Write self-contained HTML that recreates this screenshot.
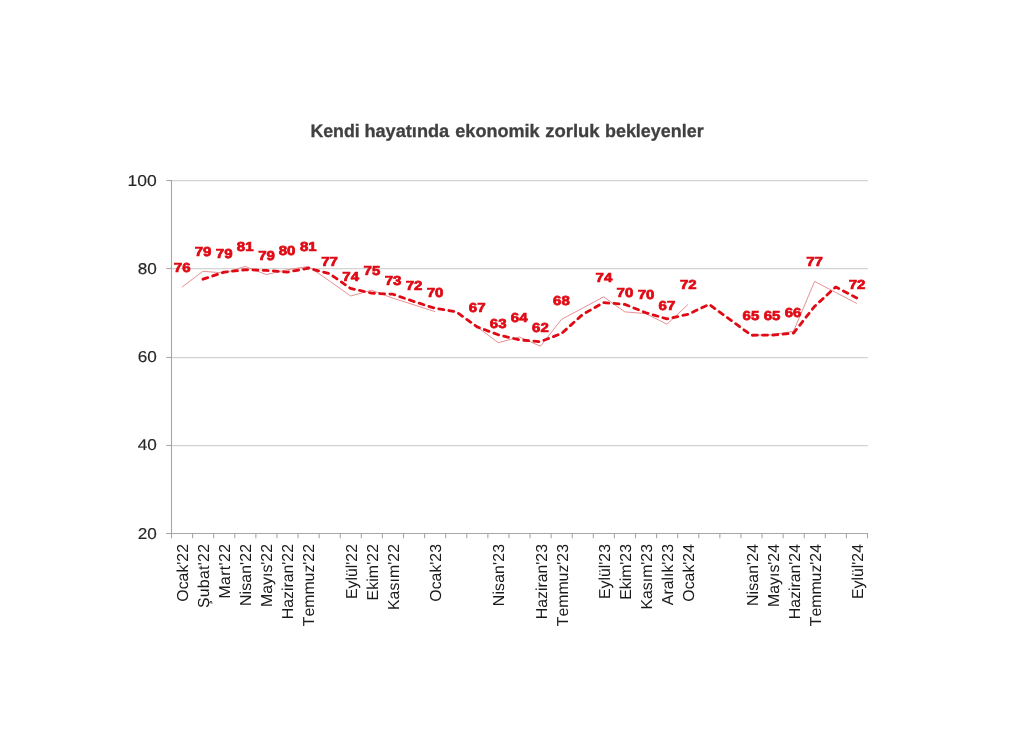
<!DOCTYPE html>
<html lang="tr"><head><meta charset="utf-8"><title>Kendi hayatında ekonomik zorluk bekleyenler</title>
<style>html,body{margin:0;padding:0;background:#fff;}body{width:1024px;height:743px;overflow:hidden;}svg{display:block;}.t{font-family:"Liberation Sans",sans-serif;text-rendering:geometricPrecision;font-kerning:none;}</style></head><body>
<svg width="1024" height="743" viewBox="0 0 1024 743">
<rect width="1024" height="743" fill="#fff"/>
<line x1="171.35" y1="180.50" x2="867.85" y2="180.50" stroke="#d3d3d3" stroke-width="1.25"/>
<line x1="171.35" y1="268.50" x2="867.85" y2="268.50" stroke="#d3d3d3" stroke-width="1.25"/>
<line x1="171.35" y1="357.50" x2="867.85" y2="357.50" stroke="#d3d3d3" stroke-width="1.25"/>
<line x1="171.35" y1="445.50" x2="867.85" y2="445.50" stroke="#d3d3d3" stroke-width="1.25"/>
<line x1="166.35" y1="180.50" x2="171.35" y2="180.50" stroke="#a7a7a7" stroke-width="1.1"/>
<line x1="166.35" y1="268.50" x2="171.35" y2="268.50" stroke="#a7a7a7" stroke-width="1.1"/>
<line x1="166.35" y1="357.50" x2="171.35" y2="357.50" stroke="#a7a7a7" stroke-width="1.1"/>
<line x1="166.35" y1="445.50" x2="171.35" y2="445.50" stroke="#a7a7a7" stroke-width="1.1"/>
<line x1="166.35" y1="533.50" x2="171.35" y2="533.50" stroke="#a7a7a7" stroke-width="1.1"/>
<line x1="171.5" y1="180" x2="171.5" y2="534" stroke="#a7a7a7" stroke-width="1.1"/>
<line x1="166.35" y1="533.5" x2="868" y2="533.5" stroke="#a7a7a7" stroke-width="1.1"/>
<line x1="171.50" y1="533.5" x2="171.50" y2="538.3" stroke="#a7a7a7" stroke-width="1.1"/>
<line x1="192.59" y1="533.5" x2="192.59" y2="538.3" stroke="#a7a7a7" stroke-width="1.1"/>
<line x1="213.68" y1="533.5" x2="213.68" y2="538.3" stroke="#a7a7a7" stroke-width="1.1"/>
<line x1="234.77" y1="533.5" x2="234.77" y2="538.3" stroke="#a7a7a7" stroke-width="1.1"/>
<line x1="255.86" y1="533.5" x2="255.86" y2="538.3" stroke="#a7a7a7" stroke-width="1.1"/>
<line x1="276.95" y1="533.5" x2="276.95" y2="538.3" stroke="#a7a7a7" stroke-width="1.1"/>
<line x1="298.05" y1="533.5" x2="298.05" y2="538.3" stroke="#a7a7a7" stroke-width="1.1"/>
<line x1="319.14" y1="533.5" x2="319.14" y2="538.3" stroke="#a7a7a7" stroke-width="1.1"/>
<line x1="340.23" y1="533.5" x2="340.23" y2="538.3" stroke="#a7a7a7" stroke-width="1.1"/>
<line x1="361.32" y1="533.5" x2="361.32" y2="538.3" stroke="#a7a7a7" stroke-width="1.1"/>
<line x1="382.41" y1="533.5" x2="382.41" y2="538.3" stroke="#a7a7a7" stroke-width="1.1"/>
<line x1="403.50" y1="533.5" x2="403.50" y2="538.3" stroke="#a7a7a7" stroke-width="1.1"/>
<line x1="424.59" y1="533.5" x2="424.59" y2="538.3" stroke="#a7a7a7" stroke-width="1.1"/>
<line x1="445.68" y1="533.5" x2="445.68" y2="538.3" stroke="#a7a7a7" stroke-width="1.1"/>
<line x1="466.77" y1="533.5" x2="466.77" y2="538.3" stroke="#a7a7a7" stroke-width="1.1"/>
<line x1="487.86" y1="533.5" x2="487.86" y2="538.3" stroke="#a7a7a7" stroke-width="1.1"/>
<line x1="508.95" y1="533.5" x2="508.95" y2="538.3" stroke="#a7a7a7" stroke-width="1.1"/>
<line x1="530.05" y1="533.5" x2="530.05" y2="538.3" stroke="#a7a7a7" stroke-width="1.1"/>
<line x1="551.14" y1="533.5" x2="551.14" y2="538.3" stroke="#a7a7a7" stroke-width="1.1"/>
<line x1="572.23" y1="533.5" x2="572.23" y2="538.3" stroke="#a7a7a7" stroke-width="1.1"/>
<line x1="593.32" y1="533.5" x2="593.32" y2="538.3" stroke="#a7a7a7" stroke-width="1.1"/>
<line x1="614.41" y1="533.5" x2="614.41" y2="538.3" stroke="#a7a7a7" stroke-width="1.1"/>
<line x1="635.50" y1="533.5" x2="635.50" y2="538.3" stroke="#a7a7a7" stroke-width="1.1"/>
<line x1="656.59" y1="533.5" x2="656.59" y2="538.3" stroke="#a7a7a7" stroke-width="1.1"/>
<line x1="677.68" y1="533.5" x2="677.68" y2="538.3" stroke="#a7a7a7" stroke-width="1.1"/>
<line x1="698.77" y1="533.5" x2="698.77" y2="538.3" stroke="#a7a7a7" stroke-width="1.1"/>
<line x1="719.86" y1="533.5" x2="719.86" y2="538.3" stroke="#a7a7a7" stroke-width="1.1"/>
<line x1="740.95" y1="533.5" x2="740.95" y2="538.3" stroke="#a7a7a7" stroke-width="1.1"/>
<line x1="762.05" y1="533.5" x2="762.05" y2="538.3" stroke="#a7a7a7" stroke-width="1.1"/>
<line x1="783.14" y1="533.5" x2="783.14" y2="538.3" stroke="#a7a7a7" stroke-width="1.1"/>
<line x1="804.23" y1="533.5" x2="804.23" y2="538.3" stroke="#a7a7a7" stroke-width="1.1"/>
<line x1="825.32" y1="533.5" x2="825.32" y2="538.3" stroke="#a7a7a7" stroke-width="1.1"/>
<line x1="846.41" y1="533.5" x2="846.41" y2="538.3" stroke="#a7a7a7" stroke-width="1.1"/>
<line x1="867.50" y1="533.5" x2="867.50" y2="538.3" stroke="#a7a7a7" stroke-width="1.1"/>
<text class="t" x="156.8" y="185.70" font-size="15.6" text-anchor="end" fill="#262626" stroke="#262626" stroke-width="0.15" textLength="29.2" lengthAdjust="spacingAndGlyphs">100</text>
<text class="t" x="156.8" y="273.96" font-size="15.6" text-anchor="end" fill="#262626" stroke="#262626" stroke-width="0.15" textLength="19.1" lengthAdjust="spacingAndGlyphs">80</text>
<text class="t" x="156.8" y="362.23" font-size="15.6" text-anchor="end" fill="#262626" stroke="#262626" stroke-width="0.15" textLength="19.1" lengthAdjust="spacingAndGlyphs">60</text>
<text class="t" x="156.8" y="450.49" font-size="15.6" text-anchor="end" fill="#262626" stroke="#262626" stroke-width="0.15" textLength="19.1" lengthAdjust="spacingAndGlyphs">40</text>
<text class="t" x="156.8" y="538.75" font-size="15.6" text-anchor="end" fill="#262626" stroke="#262626" stroke-width="0.15" textLength="19.1" lengthAdjust="spacingAndGlyphs">20</text>
<text class="t" x="310.40" y="136.7" font-size="18" font-weight="bold" fill="#404040" stroke="#404040" stroke-width="0.3" textLength="49.40" lengthAdjust="spacingAndGlyphs">Kendi</text>
<text class="t" x="364.40" y="136.7" font-size="18" font-weight="bold" fill="#404040" stroke="#404040" stroke-width="0.3" textLength="84.80" lengthAdjust="spacingAndGlyphs">hayatında</text>
<text class="t" x="455.30" y="136.7" font-size="18" font-weight="bold" fill="#404040" stroke="#404040" stroke-width="0.3" textLength="84.30" lengthAdjust="spacingAndGlyphs">ekonomik</text>
<text class="t" x="545.20" y="136.7" font-size="18" font-weight="bold" fill="#404040" stroke="#404040" stroke-width="0.3" textLength="54.40" lengthAdjust="spacingAndGlyphs">zorluk</text>
<text class="t" x="605.00" y="136.7" font-size="18" font-weight="bold" fill="#404040" stroke="#404040" stroke-width="0.3" textLength="98.60" lengthAdjust="spacingAndGlyphs">bekleyenler</text>
<text class="t" transform="translate(187.60,544.0) rotate(-90)" font-size="15.85" text-anchor="end" fill="#1a1a1a">Ocak'22</text>
<text class="t" transform="translate(208.72,544.0) rotate(-90)" font-size="15.85" text-anchor="end" fill="#1a1a1a" textLength="64.1">Şubat'22</text>
<text class="t" transform="translate(229.84,544.0) rotate(-90)" font-size="15.85" text-anchor="end" fill="#1a1a1a" textLength="54.6">Mart'22</text>
<text class="t" transform="translate(250.96,544.0) rotate(-90)" font-size="15.85" text-anchor="end" fill="#1a1a1a" textLength="62.1">Nisan'22</text>
<text class="t" transform="translate(272.08,544.0) rotate(-90)" font-size="15.85" text-anchor="end" fill="#1a1a1a">Mayıs'22</text>
<text class="t" transform="translate(293.20,544.0) rotate(-90)" font-size="15.85" text-anchor="end" fill="#1a1a1a">Haziran'22</text>
<text class="t" transform="translate(314.32,544.0) rotate(-90)" font-size="15.85" text-anchor="end" fill="#1a1a1a">Temmuz'22</text>
<text class="t" transform="translate(356.56,544.0) rotate(-90)" font-size="15.85" text-anchor="end" fill="#1a1a1a">Eylül'22</text>
<text class="t" transform="translate(377.68,544.0) rotate(-90)" font-size="15.85" text-anchor="end" fill="#1a1a1a" textLength="56.5">Ekim'22</text>
<text class="t" transform="translate(398.80,544.0) rotate(-90)" font-size="15.85" text-anchor="end" fill="#1a1a1a" textLength="66.1">Kasım'22</text>
<text class="t" transform="translate(441.04,544.0) rotate(-90)" font-size="15.85" text-anchor="end" fill="#1a1a1a">Ocak'23</text>
<text class="t" transform="translate(504.40,544.0) rotate(-90)" font-size="15.85" text-anchor="end" fill="#1a1a1a" textLength="62.2">Nisan'23</text>
<text class="t" transform="translate(546.64,544.0) rotate(-90)" font-size="15.85" text-anchor="end" fill="#1a1a1a">Haziran'23</text>
<text class="t" transform="translate(567.76,544.0) rotate(-90)" font-size="15.85" text-anchor="end" fill="#1a1a1a">Temmuz'23</text>
<text class="t" transform="translate(610.00,544.0) rotate(-90)" font-size="15.85" text-anchor="end" fill="#1a1a1a">Eylül'23</text>
<text class="t" transform="translate(631.12,544.0) rotate(-90)" font-size="15.85" text-anchor="end" fill="#1a1a1a">Ekim'23</text>
<text class="t" transform="translate(652.24,544.0) rotate(-90)" font-size="15.85" text-anchor="end" fill="#1a1a1a">Kasım'23</text>
<text class="t" transform="translate(673.36,544.0) rotate(-90)" font-size="15.85" text-anchor="end" fill="#1a1a1a">Aralık'23</text>
<text class="t" transform="translate(694.48,544.0) rotate(-90)" font-size="15.85" text-anchor="end" fill="#1a1a1a">Ocak'24</text>
<text class="t" transform="translate(757.84,544.0) rotate(-90)" font-size="15.85" text-anchor="end" fill="#1a1a1a" textLength="62.1">Nisan'24</text>
<text class="t" transform="translate(778.96,544.0) rotate(-90)" font-size="15.85" text-anchor="end" fill="#1a1a1a">Mayıs'24</text>
<text class="t" transform="translate(800.08,544.0) rotate(-90)" font-size="15.85" text-anchor="end" fill="#1a1a1a">Haziran'24</text>
<text class="t" transform="translate(821.20,544.0) rotate(-90)" font-size="15.85" text-anchor="end" fill="#1a1a1a">Temmuz'24</text>
<text class="t" transform="translate(863.44,544.0) rotate(-90)" font-size="15.85" text-anchor="end" fill="#1a1a1a">Eylül'24</text>
<polyline points="181.90,287.15 202.99,271.26 224.08,273.03 245.17,266.41 266.26,274.57 287.35,269.72 308.44,266.41 329.53,280.97 350.62,295.97 371.71,290.24 392.80,298.18 413.90,304.80 434.99,311.64" fill="none" stroke="#e0747a" stroke-width="0.8" stroke-linejoin="round"/>
<polyline points="477.17,326.87 498.26,342.75 519.35,337.02 540.44,346.28 561.53,319.36 582.62,308.11 603.71,296.86 624.80,311.86 645.90,313.63 666.99,324.22 688.08,304.36" fill="none" stroke="#e0747a" stroke-width="0.8" stroke-linejoin="round"/>
<polyline points="751.35,335.25 772.44,334.81 793.53,331.28 814.62,281.41 835.71,292.44 856.80,303.48" fill="none" stroke="#e0747a" stroke-width="0.8" stroke-linejoin="round"/>
<polyline points="202.99,279.20 224.08,272.14 245.17,269.72 266.26,270.38 287.35,272.14 308.44,268.17 329.53,273.69 350.62,288.47 371.71,293.11 392.80,294.21 413.90,301.49 434.99,308.33 456.08,311.64 477.17,326.87 498.26,334.81 519.35,339.88 540.44,341.65 561.53,333.49 582.62,314.51 603.71,302.59 624.80,304.36 645.90,312.74 666.99,318.92 688.08,314.29 709.17,304.36 751.35,335.25 772.44,335.03 793.53,333.04 814.62,306.34 835.71,286.93 856.80,297.96" fill="none" stroke="#e00a14" stroke-width="2.8" stroke-dasharray="5 5.24" stroke-linejoin="round" stroke-linecap="round"/>
<text class="t" x="182.2" y="272.4" font-size="13" font-weight="bold" text-anchor="middle" fill="#e00a14" stroke="#e00a14" stroke-width="0.7" textLength="16.7" lengthAdjust="spacingAndGlyphs">76</text>
<text class="t" x="203.0" y="256.1" font-size="13" font-weight="bold" text-anchor="middle" fill="#e00a14" stroke="#e00a14" stroke-width="0.7" textLength="16.7" lengthAdjust="spacingAndGlyphs">79</text>
<text class="t" x="224.2" y="258.4" font-size="13" font-weight="bold" text-anchor="middle" fill="#e00a14" stroke="#e00a14" stroke-width="0.7" textLength="16.7" lengthAdjust="spacingAndGlyphs">79</text>
<text class="t" x="245.2" y="251.0" font-size="13" font-weight="bold" text-anchor="middle" fill="#e00a14" stroke="#e00a14" stroke-width="0.7" textLength="16.7" lengthAdjust="spacingAndGlyphs">81</text>
<text class="t" x="266.6" y="259.7" font-size="13" font-weight="bold" text-anchor="middle" fill="#e00a14" stroke="#e00a14" stroke-width="0.7" textLength="16.7" lengthAdjust="spacingAndGlyphs">79</text>
<text class="t" x="287.1" y="254.8" font-size="13" font-weight="bold" text-anchor="middle" fill="#e00a14" stroke="#e00a14" stroke-width="0.7" textLength="16.7" lengthAdjust="spacingAndGlyphs">80</text>
<text class="t" x="308.3" y="251.4" font-size="13" font-weight="bold" text-anchor="middle" fill="#e00a14" stroke="#e00a14" stroke-width="0.7" textLength="16.7" lengthAdjust="spacingAndGlyphs">81</text>
<text class="t" x="329.6" y="266.1" font-size="13" font-weight="bold" text-anchor="middle" fill="#e00a14" stroke="#e00a14" stroke-width="0.7" textLength="16.7" lengthAdjust="spacingAndGlyphs">77</text>
<text class="t" x="350.7" y="280.8" font-size="13" font-weight="bold" text-anchor="middle" fill="#e00a14" stroke="#e00a14" stroke-width="0.7" textLength="16.7" lengthAdjust="spacingAndGlyphs">74</text>
<text class="t" x="371.9" y="274.8" font-size="13" font-weight="bold" text-anchor="middle" fill="#e00a14" stroke="#e00a14" stroke-width="0.7" textLength="16.7" lengthAdjust="spacingAndGlyphs">75</text>
<text class="t" x="393.0" y="284.6" font-size="13" font-weight="bold" text-anchor="middle" fill="#e00a14" stroke="#e00a14" stroke-width="0.7" textLength="16.7" lengthAdjust="spacingAndGlyphs">73</text>
<text class="t" x="414.1" y="290.2" font-size="13" font-weight="bold" text-anchor="middle" fill="#e00a14" stroke="#e00a14" stroke-width="0.7" textLength="16.7" lengthAdjust="spacingAndGlyphs">72</text>
<text class="t" x="435.1" y="297.1" font-size="13" font-weight="bold" text-anchor="middle" fill="#e00a14" stroke="#e00a14" stroke-width="0.7" textLength="16.7" lengthAdjust="spacingAndGlyphs">70</text>
<text class="t" x="477.2" y="312.0" font-size="13" font-weight="bold" text-anchor="middle" fill="#e00a14" stroke="#e00a14" stroke-width="0.7" textLength="16.7" lengthAdjust="spacingAndGlyphs">67</text>
<text class="t" x="498.2" y="327.7" font-size="13" font-weight="bold" text-anchor="middle" fill="#e00a14" stroke="#e00a14" stroke-width="0.7" textLength="16.7" lengthAdjust="spacingAndGlyphs">63</text>
<text class="t" x="519.2" y="322.1" font-size="13" font-weight="bold" text-anchor="middle" fill="#e00a14" stroke="#e00a14" stroke-width="0.7" textLength="16.7" lengthAdjust="spacingAndGlyphs">64</text>
<text class="t" x="540.4" y="332.0" font-size="13" font-weight="bold" text-anchor="middle" fill="#e00a14" stroke="#e00a14" stroke-width="0.7" textLength="16.7" lengthAdjust="spacingAndGlyphs">62</text>
<text class="t" x="561.4" y="305.3" font-size="13" font-weight="bold" text-anchor="middle" fill="#e00a14" stroke="#e00a14" stroke-width="0.7" textLength="16.7" lengthAdjust="spacingAndGlyphs">68</text>
<text class="t" x="603.9" y="281.9" font-size="13" font-weight="bold" text-anchor="middle" fill="#e00a14" stroke="#e00a14" stroke-width="0.7" textLength="16.7" lengthAdjust="spacingAndGlyphs">74</text>
<text class="t" x="624.9" y="296.6" font-size="13" font-weight="bold" text-anchor="middle" fill="#e00a14" stroke="#e00a14" stroke-width="0.7" textLength="16.7" lengthAdjust="spacingAndGlyphs">70</text>
<text class="t" x="646.1" y="299.1" font-size="13" font-weight="bold" text-anchor="middle" fill="#e00a14" stroke="#e00a14" stroke-width="0.7" textLength="16.7" lengthAdjust="spacingAndGlyphs">70</text>
<text class="t" x="666.9" y="309.9" font-size="13" font-weight="bold" text-anchor="middle" fill="#e00a14" stroke="#e00a14" stroke-width="0.7" textLength="16.7" lengthAdjust="spacingAndGlyphs">67</text>
<text class="t" x="688.3" y="288.9" font-size="13" font-weight="bold" text-anchor="middle" fill="#e00a14" stroke="#e00a14" stroke-width="0.7" textLength="16.7" lengthAdjust="spacingAndGlyphs">72</text>
<text class="t" x="750.9" y="320.1" font-size="13" font-weight="bold" text-anchor="middle" fill="#e00a14" stroke="#e00a14" stroke-width="0.7" textLength="16.7" lengthAdjust="spacingAndGlyphs">65</text>
<text class="t" x="772.1" y="320.1" font-size="13" font-weight="bold" text-anchor="middle" fill="#e00a14" stroke="#e00a14" stroke-width="0.7" textLength="16.7" lengthAdjust="spacingAndGlyphs">65</text>
<text class="t" x="793.1" y="316.7" font-size="13" font-weight="bold" text-anchor="middle" fill="#e00a14" stroke="#e00a14" stroke-width="0.7" textLength="16.7" lengthAdjust="spacingAndGlyphs">66</text>
<text class="t" x="814.6" y="266.4" font-size="13" font-weight="bold" text-anchor="middle" fill="#e00a14" stroke="#e00a14" stroke-width="0.7" textLength="16.7" lengthAdjust="spacingAndGlyphs">77</text>
<text class="t" x="857.0" y="288.9" font-size="13" font-weight="bold" text-anchor="middle" fill="#e00a14" stroke="#e00a14" stroke-width="0.7" textLength="16.7" lengthAdjust="spacingAndGlyphs">72</text>
</svg></body></html>
